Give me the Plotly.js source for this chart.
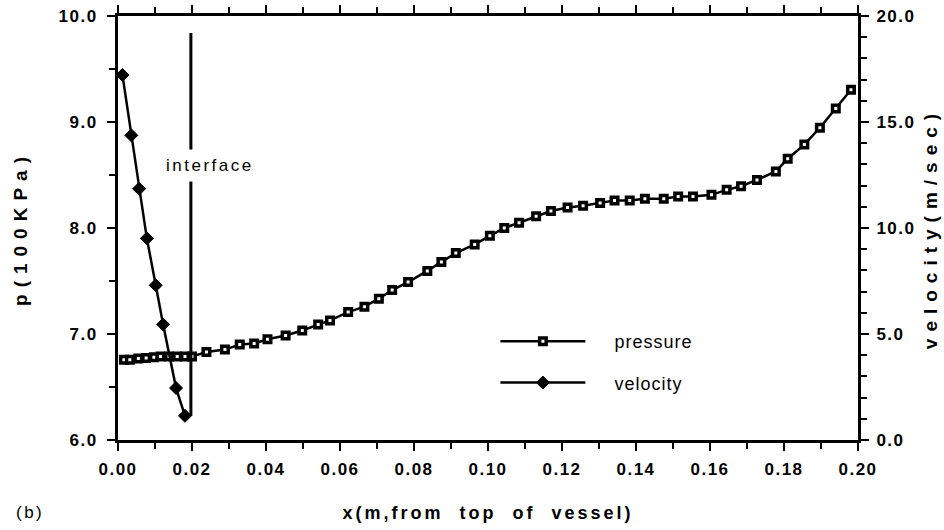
<!DOCTYPE html>
<html><head><meta charset="utf-8">
<script src="https://cdn.plot.ly/plotly-3.0.1.min.js"></script>
<style>
html,body{margin:0;padding:0;background:#fff;}
#chart{width:944px;height:530px;}
.xtick text,.ytick text,.y2tick text{letter-spacing:1.5px;}
.g-ytitle text,.g-y2title text{letter-spacing:7px;}
.g-xtitle text{letter-spacing:3px;}
.legendtext{letter-spacing:1px;}
.annotation-text{letter-spacing:2.5px;}
</style></head><body><div id="chart"></div>
<script>
// pressure (100 kPa) along x (m, from top of vessel)
const pressureX = [0.0016,0.0032,0.0055,0.0076,0.0097,0.0115,0.0138,0.0160,0.0181,0.0200,
  0.0239,0.0289,0.0329,0.0368,0.0404,0.0453,0.0498,0.0541,0.0573,0.0622,
  0.0666,0.0705,0.0741,0.0784,0.0836,0.0874,0.0913,0.0964,0.1005,0.1044,
  0.1084,0.1130,0.1170,0.1215,0.1257,0.1303,0.1342,0.1383,0.1424,0.1475,
  0.1514,0.1554,0.1604,0.1645,0.1684,0.1727,0.1778,0.1810,0.1855,0.1897,
  0.1940,0.1981];
const pressureP = [6.758,6.758,6.770,6.774,6.780,6.787,6.787,6.787,6.787,6.787,
  6.830,6.853,6.900,6.910,6.950,6.986,7.033,7.090,7.128,7.207,
  7.258,7.333,7.415,7.490,7.595,7.680,7.763,7.845,7.927,8.000,
  8.050,8.110,8.160,8.193,8.210,8.237,8.260,8.260,8.275,8.275,
  8.297,8.297,8.313,8.360,8.394,8.454,8.534,8.654,8.787,8.946,
  9.127,9.305];
// velocity (m/sec)
const velocityX = [0.0012,0.0036,0.0057,0.0078,0.0102,0.0122,0.0157,0.0181];
const velocityV = [17.22,14.37,11.85,9.51,7.30,5.45,2.45,1.14];
// interface position
const interfaceX = 0.0197;
const interfaceTopV = 19.2;
const xTicks = [0,0.02,0.04,0.06,0.08,0.10,0.12,0.14,0.16,0.18,0.20];
const seriesNames = ['pressure', 'velocity'];

const FONT = '"Liberation Sans", Arial, Helvetica, sans-serif';
const tickFont = {family: FONT, size: 17, color: '#000', weight: 'bold'};
const titleFont = {family: FONT, size: 19, weight: 'bold', color: '#000'};
const pad = '\u00a0\u00a0\u00a0\u00a0';

const traces = [
  {x: pressureX, y: pressureP, name: pad + seriesNames[0], type: 'scatter', mode: 'lines+markers',
   line: {color: '#000', width: 2.5},
   marker: {symbol: 'square', size: 6.5, color: '#fff', line: {color: '#000', width: 3.5}},
   legendgroup: 'p', xaxis: 'x', yaxis: 'y'},
  {x: velocityX, y: velocityV, name: pad + seriesNames[1], type: 'scatter', mode: 'lines+markers',
   line: {color: '#000', width: 2.5},
   marker: {symbol: 'diamond', size: 10, color: '#000', line: {color: '#000', width: 1}},
   legendgroup: 'v', xaxis: 'x', yaxis: 'y2'}
];

const layout = {
  width: 944, height: 530,
  margin: {l: 118, r: 86, t: 16, b: 90},
  paper_bgcolor: '#fff', plot_bgcolor: '#fff',
  font: {family: FONT, color: '#000'},
  showlegend: true,
  legend: {x: 0.51, xanchor: 'left', y: 0.276, yanchor: 'top', bgcolor: 'rgba(0,0,0,0)',
    font: {family: FONT, size: 18, color: '#000'}, itemwidth: 85,
    traceorder: 'grouped', tracegroupgap: 15},
  xaxis: {range: [0, 0.2], tickvals: xTicks, tickformat: '.2f',
    showline: true, linecolor: '#000', linewidth: 3, mirror: 'ticks',
    ticks: 'outside', ticklen: 8, tickwidth: 2, tickcolor: '#000',
    minor: {dtick: 0.01, ticks: 'outside', ticklen: 6, tickwidth: 2, tickcolor: '#000'},
    showgrid: false, zeroline: false, tickfont: tickFont, ticklabelstandoff: 4,
    title: {text: 'x(m,from\u00a0\u00a0top\u00a0\u00a0of\u00a0\u00a0vessel)', standoff: 28,
      font: {family: FONT, size: 18, weight: 'bold', color: '#000'}}},
  yaxis: {range: [6, 10], dtick: 1, tickformat: '.1f',
    showline: true, linecolor: '#000', linewidth: 3,
    ticks: 'outside', ticklen: 8, tickwidth: 2, tickcolor: '#000',
    minor: {dtick: 0.5, ticks: 'outside', ticklen: 6, tickwidth: 2, tickcolor: '#000'},
    showgrid: false, zeroline: false, tickfont: tickFont, ticklabelstandoff: 6,
    title: {text: 'p(100KPa)', standoff: 26, font: titleFont}},
  yaxis2: {range: [0, 20], dtick: 5, tickformat: '.1f', overlaying: 'y', side: 'right',
    showline: true, linecolor: '#000', linewidth: 3,
    ticks: 'outside', ticklen: 8, tickwidth: 2, tickcolor: '#000',
    minor: {dtick: 1, ticks: 'outside', ticklen: 6, tickwidth: 2, tickcolor: '#000'},
    showgrid: false, zeroline: false, tickfont: tickFont, ticklabelstandoff: 4,
    title: {text: 'velocity(m/sec)', standoff: 10, font: titleFont}},
  shapes: [
    {type: 'line', xref: 'x', yref: 'y2', x0: interfaceX, x1: interfaceX,
     y0: velocityV[velocityV.length - 1], y1: interfaceTopV,
     line: {color: '#000', width: 3}}
  ],
  annotations: [
    {text: 'interface', xref: 'x', yref: 'y', x: 0.0111, y: 8.59, xanchor: 'left', yanchor: 'middle',
     showarrow: false, bgcolor: '#fff', borderpad: 6,
     font: {family: FONT, size: 17, color: '#000'}},
    {text: '(b)', xref: 'paper', yref: 'paper', x: -0.141, y: -0.17, xanchor: 'left', yanchor: 'middle',
     showarrow: false, font: {family: FONT, size: 17, color: '#000'}}
  ]
};

Plotly.newPlot('chart', traces, layout, {displayModeBar: false, staticPlot: true});
</script>
</body></html>
